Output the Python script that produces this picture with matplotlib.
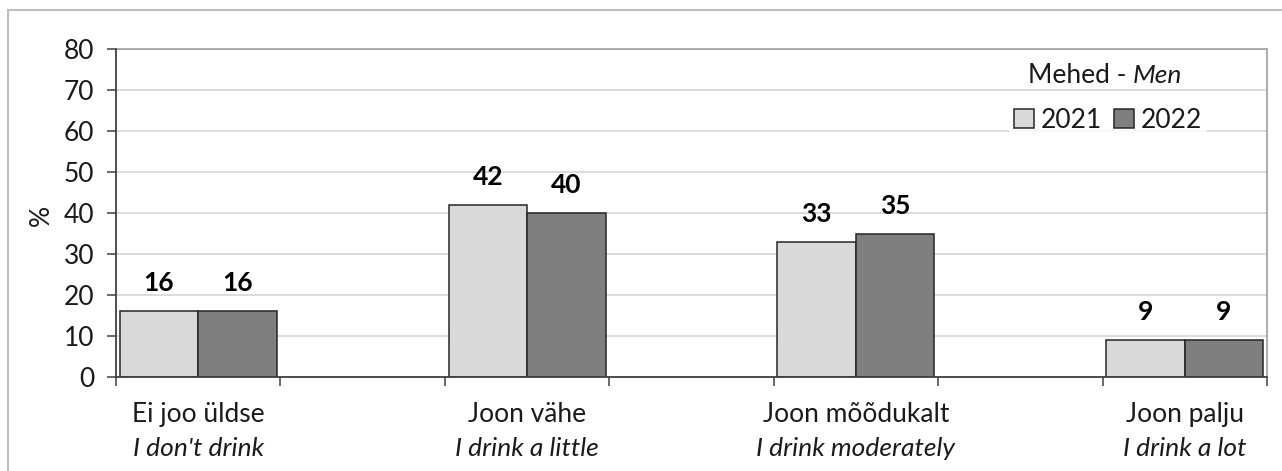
import matplotlib
matplotlib.use("Agg")
import matplotlib.pyplot as plt
from matplotlib.patches import Rectangle
import numpy as np

# ---- data ----
categories_et = ["Ei joo üldse", "Joon vähe", "Joon mõõdukalt", "Joon palju"]
categories_en = ["I don't drink", "I drink a little", "I drink moderately", "I drink a lot"]
years = ["2021", "2022"]
values_2021 = [16, 42, 33, 9]
values_2022 = [16, 40, 35, 9]
yticks = [0, 10, 20, 30, 40, 50, 60, 70, 80]
legend_title_et = "Mehed -"
legend_title_en = "Men"
ylabel = "%"

plt.rcParams['font.family'] = ['Lato', 'DejaVu Sans']
FS = 19

W, H = 1282, 471
fig = plt.figure(figsize=(W / 100, H / 100), dpi=100)
fig.patch.set_facecolor("white")

L, R, T, B = 116, 1267, 49, 377
ax = fig.add_axes([L / W, 1 - B / H, (R - L) / W, (B - T) / H])

n = len(categories_et)
centers = np.arange(n) * 2 + 0.5
bw = 0.477
c21, c22 = "#d9d9d9", "#7f7f7f"
ec = "#262626"

b1 = ax.bar(centers - bw / 2, values_2021, width=bw, color=c21, edgecolor=ec,
            linewidth=1.1, label=years[0], zorder=3)
b2 = ax.bar(centers + bw / 2, values_2022, width=bw, color=c22, edgecolor=ec,
            linewidth=1.1, label=years[1], zorder=3)

for bars, vals in ((b1, values_2021), (b2, values_2022)):
    for rect, v in zip(bars, vals):
        ax.annotate(f"{v}", xy=(rect.get_x() + rect.get_width() / 2, v),
                    xytext=(0, 14.4), textcoords="offset points",
                    ha="center", va="baseline", fontsize=FS, fontweight="bold",
                    color="#000000", zorder=5)

ax.set_xlim(0, 2 * n - 1)
ax.set_ylim(0, 80)
ax.set_yticks(yticks)
ax.set_yticklabels([str(t) for t in yticks], fontsize=FS, color="#1a1a1a")
ax.set_xticks(np.arange(0, 2 * n))
ax.set_xticklabels([])
ax.tick_params(axis="y", direction="out", length=6.5, width=1.1, color="#404040", pad=9)
ax.tick_params(axis="x", direction="out", length=6.5, width=1.1, color="#404040")

ax.grid(axis="y", color="#d9d9d9", linewidth=1.3, zorder=0)
ax.set_axisbelow(True)

for s in ("left", "bottom"):
    ax.spines[s].set_color("#404040")
    ax.spines[s].set_linewidth(1.3)
    ax.spines[s].set_zorder(4)
for s in ("top", "right"):
    ax.spines[s].set_color("#a6a6a6")
    ax.spines[s].set_linewidth(1.3)

# category labels (two lines, second italic)
for x, et, en in zip(centers, categories_et, categories_en):
    ax.annotate(et, xy=(x, 0), xycoords=("data", "axes fraction"),
                xytext=(0, -32.4), textcoords="offset points",
                ha="center", va="baseline", fontsize=FS, color="#1a1a1a")
    ax.annotate(en, xy=(x, 0), xycoords=("data", "axes fraction"),
                xytext=(0, -57), textcoords="offset points",
                ha="center", va="baseline", fontsize=FS, style="italic",
                color="#1a1a1a")

# y label
fig.text(41 / W, 1 - 215 / H, ylabel, rotation=90, ha="center", va="center",
         fontsize=FS, color="#1a1a1a")

# legend
leg = fig.legend(handles=[b1, b2], labels=years, loc="center",
                 bbox_to_anchor=(1108 / W, 1 - 120 / H), ncol=2, frameon=True,
                 fontsize=FS, handlelength=0.75, handleheight=0.75,
                 handletextpad=0.25, columnspacing=0.45, borderpad=0.2,
                 borderaxespad=0)
leg.get_frame().set_facecolor("white")
leg.get_frame().set_edgecolor("none")
for t in leg.get_texts():
    t.set_color("#1a1a1a")

fig.text(1126 / W, 1 - 83 / H, legend_title_et, ha="right", va="baseline",
         fontsize=FS, color="#1a1a1a")
fig.text(1133 / W, 1 - 83 / H, legend_title_en, ha="left", va="baseline",
         fontsize=FS, style="italic", color="#1a1a1a")

# outer chart frame
fig.patches.append(Rectangle((8 / W, -0.5), 2, 1.5 - 10 / H,
                             transform=fig.transFigure, fill=False,
                             edgecolor="#bfbfbf", linewidth=1.5))

fig.savefig("out.png", dpi=100)
